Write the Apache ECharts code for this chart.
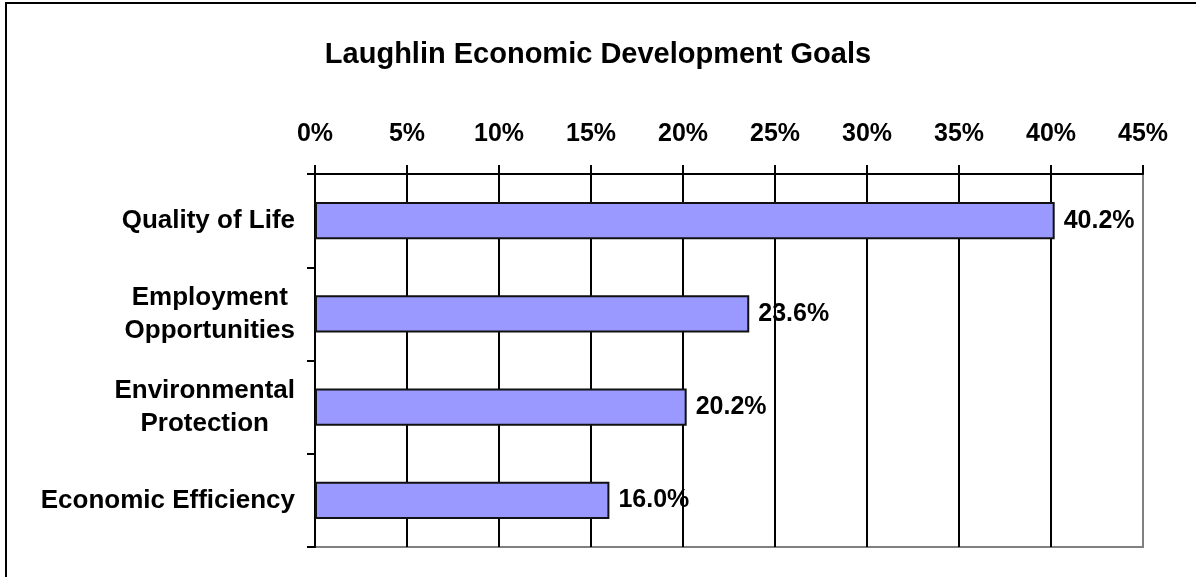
<!DOCTYPE html>
<html>
<head>
<meta charset="utf-8">
<title>Laughlin Economic Development Goals</title>
<script src="https://cdn.jsdelivr.net/npm/echarts@6/dist/echarts.min.js"></script>
<style>
  html, body { margin: 0; padding: 0; background: #fff; }
  #chart { width: 1196px; height: 577px; }
</style>
</head>
<body>
<div id="chart"></div>
<script>
// Share of respondents naming each goal (percent)
const goals = ['Quality of Life', 'Employment\nOpportunities', 'Environmental\nProtection', 'Economic Efficiency'];
const shares = [40.2, 23.6, 20.2, 16.0];

// Percent scale along the top axis
const scaleMin = 0;
const scaleMax = 45;
const scaleStep = 5;

const FONT = '"Liberation Sans", Arial, Helvetica, sans-serif';

const chart = echarts.init(document.getElementById('chart'), null, { renderer: 'canvas' });

chart.setOption({
  animation: false,
  backgroundColor: '#fff',
  graphic: [{
    type: 'rect',
    shape: { x: 6, y: 3, width: 1300, height: 700 },
    style: { fill: 'none', stroke: '#000', lineWidth: 2 },
    silent: true
  }],
  title: {
    text: 'Laughlin Economic Development Goals',
    left: 'center',
    top: 35,
    textStyle: { fontFamily: FONT, fontSize: 29, fontWeight: 'bold', color: '#000' }
  },
  grid: {
    left: 315, right: 53, top: 174, bottom: 30,
    show: true,
    borderColor: '#808080',
    borderWidth: 2,
    backgroundColor: '#fff'
  },
  xAxis: {
    type: 'value',
    position: 'top',
    min: scaleMin,
    max: scaleMax,
    interval: scaleStep,
    axisLine: { show: true, lineStyle: { color: '#000', width: 2 } },
    axisTick: { show: true, inside: false, length: 9, lineStyle: { color: '#000', width: 2 } },
    axisLabel: {
      margin: 27,
      formatter: '{value}%',
      fontFamily: FONT, fontSize: 25, fontWeight: 'bold', color: '#000'
    },
    splitLine: { show: true, showMinLine: false, showMaxLine: false, lineStyle: { color: '#000', width: 2 } }
  },
  yAxis: {
    type: 'category',
    inverse: true,
    data: goals,
    axisLine: { show: true, lineStyle: { color: '#000', width: 2 } },
    axisTick: { show: true, inside: false, length: 8, lineStyle: { color: '#000', width: 2 } },
    axisLabel: {
      margin: 20,
      align: 'right',
      formatter: (v) => v.split('\n').map(line => '{c|' + line + '}').join('\n'),
      rich: {
        c: {
          align: 'center',
          fontFamily: FONT, fontSize: 26, fontWeight: 'bold', color: '#000',
          lineHeight: 33
        }
      }
    },
    splitLine: { show: false }
  },
  series: [{
    type: 'bar',
    data: shares,
    barWidth: '40%',
    itemStyle: { color: '#9999FF', borderColor: '#111', borderWidth: 2 },
    label: {
      show: true,
      position: 'right',
      distance: 9,
      formatter: (p) => p.value.toFixed(1) + '%',
      fontFamily: FONT, fontSize: 25, fontWeight: 'bold', color: '#000'
    }
  }]
});
</script>
</body>
</html>
